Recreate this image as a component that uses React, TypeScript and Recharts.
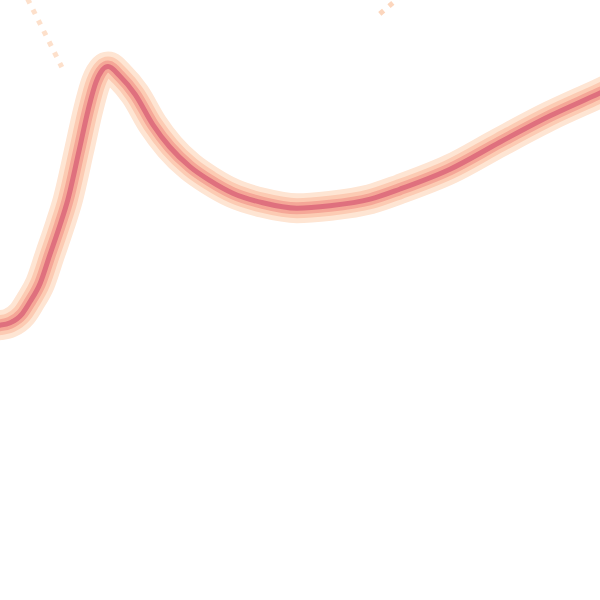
import { LineChart, Line, XAxis, YAxis } from 'recharts'

// main curve (x: 0-100 across, y: 0-100 bottom to top)
const curveX = [-1.5, 0, 1.7, 3.7, 5, 6.7, 8.3, 10, 11.3, 13.2, 14.7, 16, 18, 20, 22.5, 25.5, 28.3, 31.7, 35, 38.8, 43.8, 49.5, 55, 61.7, 66.7, 75, 83.3, 91.7, 100, 101.5]
const curveY = [45.7, 45.8, 46.2, 47.7, 49.7, 52.8, 57.5, 62.5, 66.7, 75, 81.7, 86.3, 88.9, 87.3, 84.3, 79.2, 75.5, 72.2, 69.9, 67.8, 66.2, 65.3, 65.7, 66.8, 68.5, 71.8, 76.3, 80.7, 84.5, 85.2]

// faint dotted traces at the top edge
const leftDotX = [4.6, 10.3]
const leftDotY = [100.2, 88.8]
const rightDotX = [63.3, 66.4]
const rightDotY = [97.7, 100.3]

const toPoints = (xs: number[], ys: number[]) => xs.map((x, i) => ({ x, y: ys[i] }))

const curve = toPoints(curveX, curveY)
const leftDots = toPoints(leftDotX, leftDotY)
const rightDots = toPoints(rightDotX, rightDotY)

// glow layers, widest first
const glow = [
  { color: '#fee5d3', width: 30 },
  { color: '#fccbb3', width: 20 },
  { color: '#f5a797', width: 12 },
  { color: '#df707e', width: 5 },
]

export default function App() {
  return (
    <div style={{ position: 'absolute', top: 0, left: 0, background: '#fff' }}>
      <LineChart width={600} height={600} margin={{ top: 0, right: 0, bottom: 0, left: 0 }}>
        <XAxis type="number" dataKey="x" domain={[0, 100]} hide allowDataOverflow />
        <YAxis type="number" dataKey="y" domain={[0, 100]} hide allowDataOverflow />
        <Line
          data={leftDots}
          dataKey="y"
          stroke="#fde0cb"
          strokeWidth={5}
          strokeDasharray="5 7"
          dot={false}
          isAnimationActive={false}
        />
        <Line
          data={rightDots}
          dataKey="y"
          stroke="#fcd6bd"
          strokeWidth={5}
          strokeDasharray="5 7"
          dot={false}
          isAnimationActive={false}
        />
        {glow.map((g, i) => (
          <Line
            key={i}
            data={curve}
            dataKey="y"
            type="monotone"
            stroke={g.color}
            strokeWidth={g.width}
            strokeLinecap="round"
            strokeLinejoin="round"
            dot={false}
            activeDot={false}
            isAnimationActive={false}
          />
        ))}
      </LineChart>
    </div>
  )
}
